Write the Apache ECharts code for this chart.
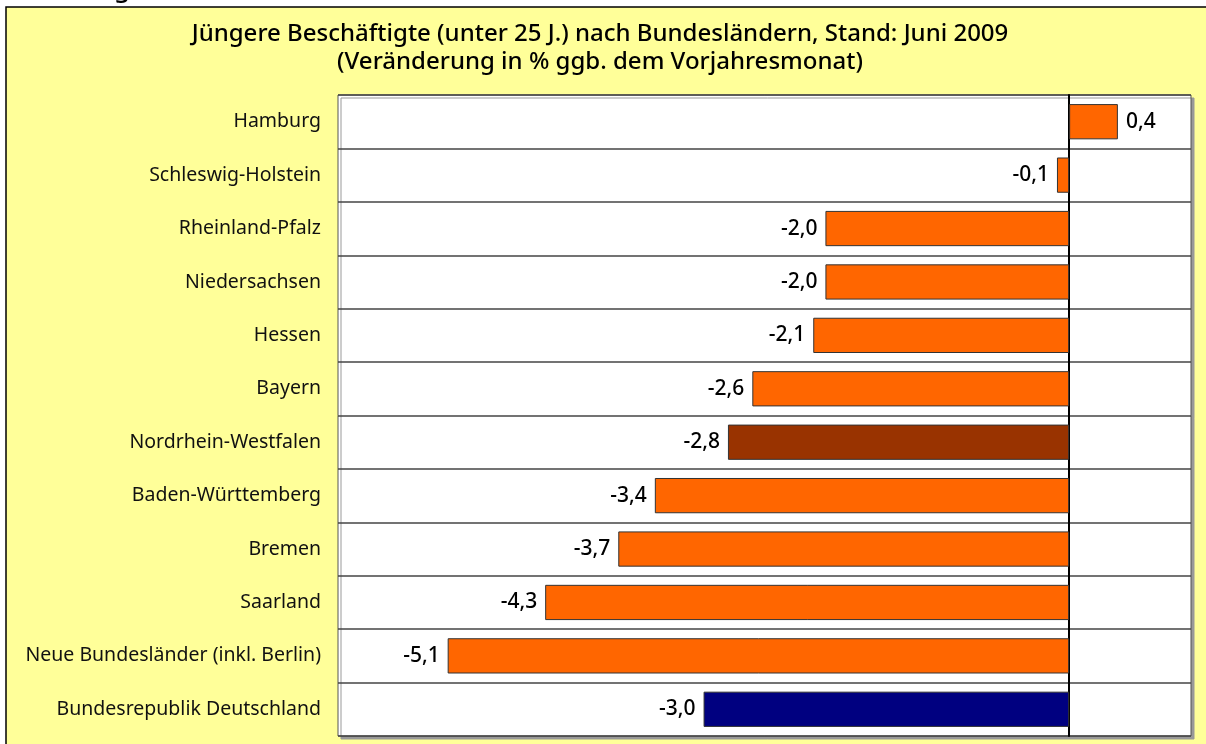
<!DOCTYPE html>
<html>
<head>
<meta charset="utf-8">
<script src="https://cdn.jsdelivr.net/npm/echarts@6/dist/echarts.min.js"></script>
<style>
    html, body { margin: 0; padding: 0; background: #ffffff; }
    #chart { width: 1206px; height: 744px; }
</style>
</head>
<body>
<div id="chart"></div>
<script>
const regions = [
    'Hamburg',
    'Schleswig-Holstein',
    'Rheinland-Pfalz',
    'Niedersachsen',
    'Hessen',
    'Bayern',
    'Nordrhein-Westfalen',
    'Baden-Württemberg',
    'Bremen',
    'Saarland',
    'Neue Bundesländer (inkl. Berlin)',
    'Bundesrepublik Deutschland'
];
const changes = [0.4, -0.1, -2.0, -2.0, -2.1, -2.6, -2.8, -3.4, -3.7, -4.3, -5.1, -3.0];
const barColors = ['#ff6600', '#ff6600', '#ff6600', '#ff6600', '#ff6600', '#ff6600',
    '#993300', '#ff6600', '#ff6600', '#ff6600', '#ff6600', '#000080'];

function germanNumber(v) {
    return v.toFixed(1).replace('.', ',');
}

let chart = echarts.init(document.getElementById('chart'));

let barData = changes.map(function (v, i) {
    return {
        value: v,
        itemStyle: { color: barColors[i] },
        label: { position: v >= 0 ? 'right' : 'left' }
    };
});

chart.setOption({
    backgroundColor: '#ffffff',
    animation: false,
    graphic: [
        {
            type: 'rect',
            z: -10,
            shape: { x: 6, y: 7, width: 1260, height: 800 },
            style: { fill: '#ffff99', stroke: '#000000', lineWidth: 1.5 }
        },
        {
            type: 'text',
            left: 2,
            top: -23,
            z: -20,
            style: { text: 'Abbildung 11', font: '500 26px "Noto Sans"', fill: '#000000' }
        }
    ],
    title: {
        text: 'Jüngere Beschäftigte (unter 25 J.) nach Bundesländern, Stand: Juni 2009\n(Veränderung in % ggb. dem Vorjahresmonat)',
        left: 595,
        top: 15,
        textAlign: 'center',
        textStyle: {
            fontFamily: 'Noto Sans',
            fontSize: 24,
            fontWeight: 500,
            lineHeight: 28,
            color: '#000000'
        }
    },
    grid: {
        left: 338,
        right: 15,
        top: 95,
        bottom: 8,
        show: true,
        backgroundColor: '#ffffff',
        borderColor: '#555555',
        borderWidth: 1,
        shadowColor: '#999999',
        shadowOffsetX: 3,
        shadowOffsetY: 3,
        shadowBlur: 0
    },
    xAxis: {
        type: 'value',
        min: -6,
        max: 1,
        axisLabel: { show: false },
        axisLine: { show: false },
        axisTick: { show: false },
        splitLine: { show: false }
    },
    yAxis: {
        type: 'category',
        data: regions,
        inverse: true,
        axisLine: { show: true, onZero: true, lineStyle: { color: '#000000', width: 2 } },
        axisTick: { show: false },
        axisLabel: {
            fontFamily: 'Noto Sans',
            fontSize: 19.5,
            color: '#111111',
            margin: 17
        },
        splitLine: { show: true, lineStyle: { color: '#444444', width: 1.5 } }
    },
    series: [{
        type: 'bar',
        data: barData,
        barCategoryGap: '34%',
        itemStyle: { borderColor: '#333333', borderWidth: 1 },
        label: {
            show: true,
            distance: 8,
            fontFamily: 'Noto Sans',
            fontSize: 21,
            fontWeight: 500,
            color: '#000000',
            formatter: function (p) { return germanNumber(p.value); }
        }
    }]
});
</script>
</body>
</html>
